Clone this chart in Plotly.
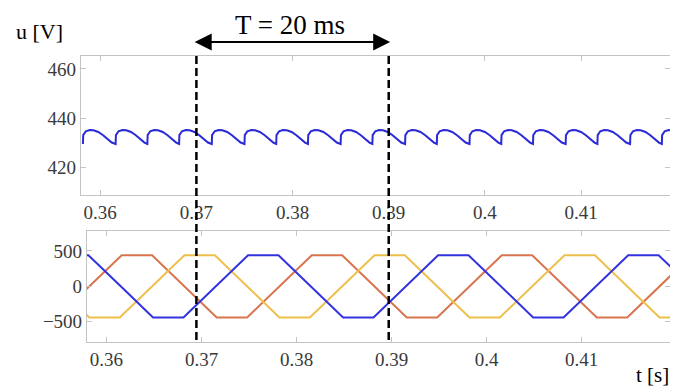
import plotly.graph_objects as go

# ---------------- data ----------------
# DC-link voltage ripple: cusp (minimum) times and the shape of one ripple cycle
ripple_cusp_t = [0.3582, 0.3616, 0.3649, 0.3682, 0.3716, 0.3750, 0.3783, 0.3816,
                 0.3850, 0.3883, 0.3917, 0.3950, 0.3984, 0.4017, 0.4050, 0.4084,
                 0.4117, 0.4151, 0.4184]
ripple_offset_ms = [0.0, 0.03, 0.3, 0.7, 1.1, 1.6, 2.1, 2.6, 3.0]
ripple_shape_v = [429.4, 433.0, 434.6, 435.1, 435.0, 434.3, 433.0, 431.3, 430.0]

# three phase voltages (vertices)
blue_t = [0.3549, 0.3581, 0.3615, 0.3649, 0.3681, 0.3715, 0.3749, 0.3781, 0.3815,
          0.3849, 0.3881, 0.3915, 0.3949, 0.3981, 0.4015, 0.4049, 0.4081, 0.4115,
          0.4149, 0.4181, 0.4215]
blue_v = [440, 440, 0, -440, -440, 0, 440, 440, 0, -440, -440, 0, 440, 440, 0,
          -440, -440, 0, 440, 440, 0]

red_t = [0.3516, 0.3548, 0.3582, 0.3616, 0.3648, 0.3682, 0.3716, 0.3748, 0.3782,
         0.3816, 0.3848, 0.3882, 0.3916, 0.3948, 0.3982, 0.4016, 0.4048, 0.4082,
         0.4116, 0.4148, 0.4182, 0.4216]
red_v = [-440, -440, 0, 440, 440, 0, -440, -440, 0, 440, 440, 0, -440, -440, 0,
         440, 440, 0, -440, -440, 0, 440]

yellow_t = [0.3548, 0.3582, 0.3614, 0.3648, 0.3682, 0.3714, 0.3748, 0.3782, 0.3814,
            0.3848, 0.3882, 0.3914, 0.3948, 0.3982, 0.4014, 0.4048, 0.4082, 0.4114,
            0.4148, 0.4182, 0.4214]
yellow_v = [0, -440, -440, 0, 440, 440, 0, -440, -440, 0, 440, 440, 0, -440, -440,
            0, 440, 440, 0, -440, -440]

x_tick_vals = [0.36, 0.37, 0.38, 0.39, 0.40, 0.41]
x_tick_text = ["0.36", "0.37", "0.38", "0.39", "0.4", "0.41"]
top_y_ticks = [420, 440, 460]
bot_y_ticks = [-500, 0, 500]
period_marks = [0.37, 0.39]

# ---------------- build ripple trace ----------------
rip_x, rip_y = [], []
for c in ripple_cusp_t:
    for off, v in zip(ripple_offset_ms, ripple_shape_v):
        rip_x.append(c + off / 1000.0)
        rip_y.append(v)

# page has an 8px body margin: the figure is drawn offset by 8px
OFF = 8
W, H = 678 - OFF, 388 - OFF
def py(p):
    return 1 - (p - OFF) / H
def px(p):
    return (p - OFF) / W

FONT = "Liberation Serif, Times New Roman, serif"
AXC = "#c4c4c4"
TXT = "#3a3a3a"

fig = go.Figure()
fig.add_trace(go.Scatter(x=rip_x, y=rip_y, mode="lines",
                         line=dict(color="#2a2ad6", width=2),
                         xaxis="x", yaxis="y", showlegend=False, hoverinfo="skip"))
fig.add_trace(go.Scatter(x=red_t, y=red_v, mode="lines",
                         line=dict(color="#d9744f", width=2),
                         xaxis="x2", yaxis="y2", showlegend=False))
fig.add_trace(go.Scatter(x=yellow_t, y=yellow_v, mode="lines",
                         line=dict(color="#edbf4c", width=2),
                         xaxis="x2", yaxis="y2", showlegend=False))
fig.add_trace(go.Scatter(x=blue_t, y=blue_v, mode="lines",
                         line=dict(color="#3232e0", width=2),
                         xaxis="x2", yaxis="y2", showlegend=False))

axis_common = dict(showline=True, linecolor=AXC, linewidth=1.2, mirror="ticks",
                   ticks="inside", ticklen=5, tickcolor=AXC, tickwidth=1,
                   showgrid=False, zeroline=False,
                   tickfont=dict(family=FONT, size=19, color=TXT))

fig.update_layout(
    width=W, height=H,
    margin=dict(l=0, r=0, t=0, b=0),
    paper_bgcolor="white", plot_bgcolor="white",
    xaxis=dict(domain=[px(81), px(670)], range=[0.3580, 0.41925], anchor="y",
               tickvals=x_tick_vals, ticktext=x_tick_text, **axis_common),
    yaxis=dict(domain=[py(195), py(56)], range=[408.6, 465.3], anchor="x",
               tickvals=top_y_ticks, **axis_common),
    xaxis2=dict(domain=[px(87), px(670)], range=[0.35795, 0.4193], anchor="y2",
                tickvals=x_tick_vals, ticktext=x_tick_text, **axis_common),
    yaxis2=dict(domain=[py(342), py(231)], range=[-787, 782], anchor="x2",
                tickvals=bot_y_ticks, **axis_common),
)

for t in period_marks:
    fig.add_shape(type="line", xref="x", yref="paper", x0=t, x1=t,
                  y0=py(340), y1=py(55),
                  line=dict(color="black", width=2.5, dash="8px,4px"))

# double-headed arrow for the period
fig.add_annotation(x=0.39015, y=py(42), xref="x", yref="paper",
                   ax=-197, ay=0, axref="pixel", ayref="pixel",
                   text="", showarrow=True, arrowside="end+start",
                   arrowhead=2, startarrowhead=2, arrowsize=1.7, startarrowsize=1.7,
                   arrowwidth=2, arrowcolor="black", standoff=0, startstandoff=0)
fig.add_annotation(x=0.37975, y=py(25), xref="x", yref="paper",
                   xanchor="center", yanchor="middle",
                   text="T = 20 ms", showarrow=False,
                   font=dict(family=FONT, size=27, color="black"))
fig.add_annotation(x=px(39), y=py(32), xref="paper", yref="paper",
                   xanchor="center", yanchor="middle",
                   text="u [V]", showarrow=False,
                   font=dict(family=FONT, size=22, color="black"))
fig.add_annotation(x=px(671), y=py(375), xref="paper", yref="paper",
                   xanchor="right", yanchor="middle",
                   text="t [s]", showarrow=False,
                   font=dict(family=FONT, size=21, color="black"))

fig.write_html("out.html")
